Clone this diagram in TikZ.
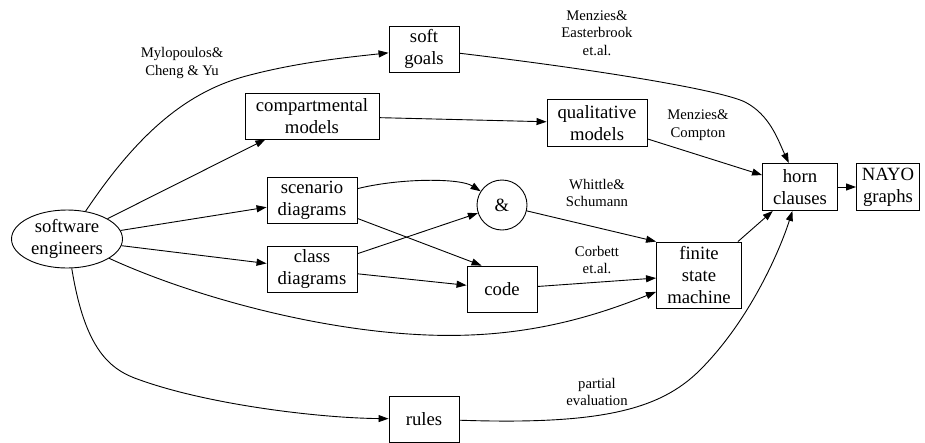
\documentclass[tikz,border=0pt]{standalone}
\usepackage{fontspec}
\setmainfont{Liberation Serif}
\usetikzlibrary{arrows.meta,shapes.geometric}
\begin{document}
\begin{tikzpicture}[x=1pt,y=-1pt,line width=0.9pt,
  box/.style={draw,rectangle,inner sep=0pt,align=center,font=\fontsize{18.7}{22}\selectfont},
  lbl/.style={align=center,font=\fontsize{14.7}{17.6}\selectfont},
  edge/.style={-{Triangle[length=10pt,width=7pt]}}]
\useasboundingbox (0,0) rectangle (925,442);
\node[draw,ellipse,inner sep=0pt,minimum width=111pt,minimum height=58pt,align=center,
  font=\fontsize{18.7}{22}\selectfont] (se) at (67,239) {software\\engineers};
\node[box,minimum width=70pt,minimum height=46pt] (sg) at (424,49) {soft\\goals};
\node[box,minimum width=134pt,minimum height=46pt] (cm) at (312,116) {compartmental\\models};
\node[box,minimum width=90pt,minimum height=46pt] (sd) at (312,200) {scenario\\diagrams};
\node[box,minimum width=90pt,minimum height=46pt] (cd) at (312,269) {class\\diagrams};
\node[box,minimum width=70pt,minimum height=46pt] (ru) at (424,419) {rules};
\node[box,minimum width=100pt,minimum height=47pt] (ql) at (597,123) {qualitative\\models};
\node[draw,circle,inner sep=0pt,minimum size=50pt,font=\fontsize{18.7}{22}\selectfont] (amp) at (502,205) {\&};
\node[box,minimum width=70pt,minimum height=46pt] (code) at (502,289) {code};
\node[box,minimum width=85pt,minimum height=66pt] (fsm) at (699,275) {finite\\state\\machine};
\node[box,minimum width=75pt,minimum height=47pt] (hc) at (800,187) {horn\\clauses};
\node[box,minimum width=63pt,minimum height=47pt] (ny) at (888,187) {NAYO\\graphs};
% labels
\node[lbl] (l1) at (182,63) {Mylopoulos\&\\Cheng \& Yu};
\node[lbl] (l2) at (597,33) {Menzies\&\\Easterbrook\\et.al.};
\node[lbl] (l3) at (698,125) {Menzies\&\\Compton};
\node[lbl] (l4) at (597,193) {Whittle\&\\Schumann};
\node[lbl] (l5) at (597,260) {Corbett\\et.al.};
\node[lbl] (l6) at (597,392) {partial\\evaluation};
% edges
\draw[edge] (se) .. controls (140,130) and (190,90) .. (250,75) .. controls (300,62) and (350,57) .. (sg);
\draw[edge] (se) -- (cm);
\draw[edge] (se) -- (sd);
\draw[edge] (se) -- (cd);
\draw[edge] (se) .. controls (200,300) and (350,340) .. (470,335) .. controls (550,332) and (610,310) .. (fsm);
\draw[edge] (se) .. controls (85,350) and (110,370) .. (140,380) .. controls (210,405) and (320,418) .. (ru);
\draw[edge] (sg) .. controls (600,70) and (720,90) .. (745,102) .. controls (770,115) and (778,140) .. (hc);
\draw[edge] (cm) -- (ql);
\draw[edge] (ql) -- (hc);
\draw[edge] (sd) .. controls (400,178) and (460,178) .. (amp);
\draw[edge] ([yshift=5pt]sd.south east) -- ([xshift=15pt]code.north west);
\draw[edge] (cd) -- (amp);
\draw[edge] (cd) -- (code);
\draw[edge] (amp) -- (fsm.north west);
\draw[edge] (code) -- (fsm);
\draw[edge] ([xshift=-4pt]fsm.north east) -- (hc);
\draw[edge] (ru) .. controls (600,425) and (660,410) .. (700,370) .. controls (750,320) and (780,250) .. (hc);
\draw[edge] (hc) -- (ny);
\end{tikzpicture}
\end{document}
